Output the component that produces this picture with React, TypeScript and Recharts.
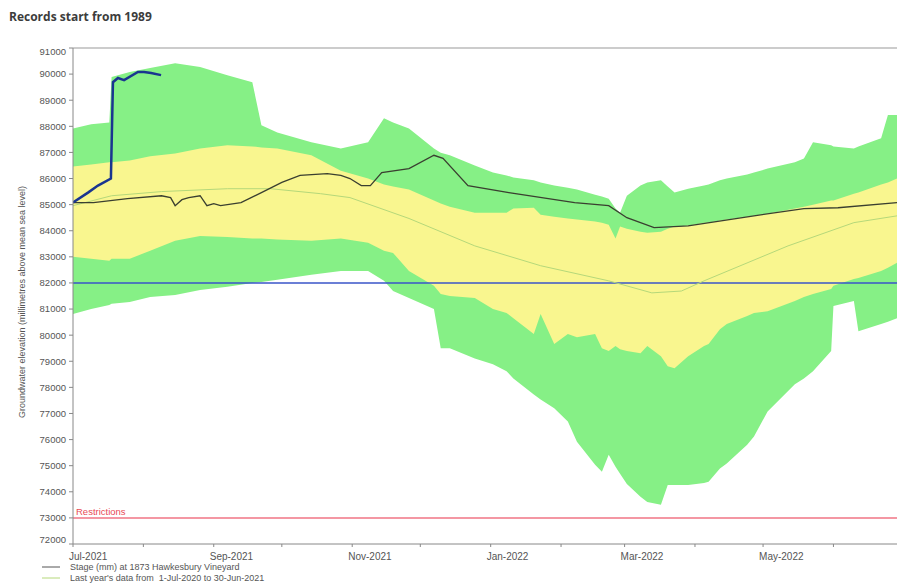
import React from 'react';
import { ComposedChart, Area, Line, XAxis, YAxis, ReferenceLine } from 'recharts';

// Days since 1-Jul-2021
const bandDays = [0, 8, 16, 17, 25, 34, 45, 56, 68, 79, 83, 90, 105, 118, 130, 137, 141, 148, 159, 162, 166, 177, 185, 191, 194, 203, 206, 212, 218, 222, 230, 233, 236, 239, 241, 244, 250, 253, 259, 262, 265, 271, 278, 280, 285, 288, 297, 300, 306, 318, 322, 326, 334, 335, 344, 346, 356, 359, 363];
const greenHigh = [87920, 88080, 88150, 89890, 90080, 90230, 90420, 90270, 89960, 89690, 88040, 87760, 87390, 87150, 87390, 88310, 88150, 87920, 87150, 86990, 86890, 86500, 86230, 86120, 86040, 85930, 85850, 85730, 85650, 85580, 85380, 85310, 85230, 84850, 84690, 85340, 85730, 85850, 85930, 85690, 85460, 85610, 85730, 85770, 85930, 86000, 86150, 86230, 86380, 86620, 86770, 87390, 87270, 87230, 87150, 87230, 87540, 88430, 88430];
const greenLow = [80810, 81000, 81160, 81200, 81270, 81460, 81540, 81730, 81850, 82000, 82040, 82120, 82310, 82460, 82460, 82080, 81690, 81420, 81000, 79500, 79500, 79110, 78890, 78620, 78340, 77730, 77540, 77200, 76690, 75920, 75040, 74770, 75420, 74960, 74690, 74300, 73810, 73610, 73500, 74260, 74260, 74260, 74340, 74380, 74890, 75080, 75800, 76120, 77080, 78120, 78340, 78620, 79390, 81120, 81310, 80150, 80430, 80510, 80650];
const yellowHigh = [86460, 86540, 86620, 86620, 86690, 86850, 86960, 87150, 87270, 87230, 87190, 87150, 86890, 86300, 86000, 85770, 85690, 85580, 85160, 85040, 84920, 84690, 84690, 84690, 84850, 84880, 84610, 84540, 84470, 84430, 84350, 84310, 84230, 83700, 84160, 84080, 83960, 83920, 83960, 84080, 84160, 84190, 84310, 84310, 84390, 84430, 84540, 84570, 84650, 84850, 84920, 85000, 85160, 85160, 85420, 85460, 85770, 85850, 86000];
const yellowLow = [83000, 82930, 82850, 82930, 82930, 83230, 83620, 83800, 83760, 83700, 83700, 83660, 83620, 83700, 83540, 83230, 83150, 82460, 81890, 81580, 81500, 81420, 81000, 80850, 80650, 80040, 80810, 79660, 80040, 79920, 80040, 79500, 79390, 79580, 79460, 79390, 79310, 79580, 79190, 78810, 78730, 79190, 79580, 79660, 80230, 80430, 80730, 80850, 80920, 81310, 81460, 81580, 81770, 81890, 82150, 82190, 82460, 82580, 82770];

const stageDays = [0, 9, 24, 39, 43, 45, 48, 51, 56, 59, 62, 65, 74, 83, 92, 100, 112, 118, 122, 127, 131, 136, 148, 159, 163, 174, 192, 221, 236, 244, 256, 271, 300, 322, 337, 363];
const stageValues = [85080, 85080, 85230, 85340, 85270, 84960, 85190, 85270, 85340, 84960, 85040, 84960, 85080, 85460, 85850, 86120, 86190, 86120, 86000, 85730, 85730, 86230, 86380, 86890, 86770, 85730, 85460, 85080, 84960, 84500, 84120, 84190, 84570, 84850, 84880, 85080];

const lastYearDays = [0, 17, 39, 68, 87, 109, 122, 148, 177, 206, 236, 255, 268, 278, 315, 344, 363];
const lastYearValues = [84960, 85340, 85500, 85610, 85610, 85420, 85270, 84470, 83420, 82660, 82080, 81620, 81690, 82080, 83420, 84310, 84570];

const blueDays = [0, 6.6, 11, 16.7, 17.6, 19.8, 22.5, 28.6, 31.3, 34.4, 38.8];
const blueValues = [85080, 85460, 85730, 86000, 89690, 89850, 89770, 90080, 90080, 90040, 89960];

const yTicks = [72000, 73000, 74000, 75000, 76000, 77000, 78000, 79000, 80000, 81000, 82000, 83000, 84000, 85000, 86000, 87000, 88000, 89000, 90000, 91000];
const monthTicks = [0, 31, 62, 92, 123, 153, 184, 215, 243, 274, 304, 335];
const monthLabels = ['Jul-2021', '', 'Sep-2021', '', 'Nov-2021', '', 'Jan-2022', '', 'Mar-2022', '', 'May-2022', ''];

const restrictionLevel = 73000;
const triggerLevel = 82000;

const bandData = bandDays.map((d, i) => ({
  day: d,
  green: [greenLow[i], greenHigh[i]],
  yellow: [yellowLow[i], yellowHigh[i]],
}));
const stageData = stageDays.map((d, i) => ({ day: d, v: stageValues[i] }));
const lastYearData = lastYearDays.map((d, i) => ({ day: d, v: lastYearValues[i] }));
const blueData = blueDays.map((d, i) => ({ day: d, v: blueValues[i] }));

const FONT = '"Liberation Sans", Arial, sans-serif';

const XTick = (props: any) => {
  const { x, y, payload } = props;
  const idx = monthTicks.indexOf(payload.value);
  const lbl = idx >= 0 ? monthLabels[idx] : '';
  return (
    <text x={x - 4} y={y + 11} fontSize={10} fill="#555" fontFamily={FONT} textAnchor="start">
      {lbl}
    </text>
  );
};

const YTick = (props: any) => {
  const { x, y, payload } = props;
  const v = payload.value;
  const dy = v === yTicks[yTicks.length - 1] ? 4 : v === yTicks[0] ? -4 : 0;
  return (
    <text x={x} y={y + dy} dy="0.355em" fontSize={9.5} fill="#555" fontFamily={FONT} textAnchor="end">
      {v}
    </text>
  );
};

export default function App() {
  return (
    <div style={{ position: 'absolute', left: 0, top: 0, width: 897, height: 587, background: '#fff', overflow: 'hidden' }}>
      <div style={{ position: 'absolute', left: 9, top: 8, fontFamily: '"Open Sans", sans-serif', fontWeight: 700, fontSize: 12, color: '#3c3c3c' }}>
        Records start from 1989
      </div>
      <ComposedChart
        width={897}
        height={587}
        margin={{ top: 48, right: 0, bottom: 13, left: 18 }}
        style={{ position: 'absolute', left: 0, top: 0 }}
      >
        <XAxis
          type="number"
          dataKey="day"
          domain={[0, 363]}
          ticks={monthTicks}
          tick={<XTick />}
          tickSize={3}
          tickMargin={2}
          height={30}
          stroke="#888"
          allowDataOverflow
        />
        <XAxis
          xAxisId="top"
          orientation="top"
          type="number"
          dataKey="day"
          domain={[0, 363]}
          ticks={monthTicks}
          tick={false}
          tickSize={3}
          stroke="#999"
          height={0}
        />
        <YAxis
          type="number"
          domain={[72000, 91000]}
          ticks={yTicks}
          interval={0}
          width={55}
          tickSize={4}
          tickMargin={3}
          stroke="#888"
          tick={<YTick />}
          allowDataOverflow
        />
        <Area data={bandData} dataKey="green" type="linear" fill="#86f086" fillOpacity={1} stroke="none" isAnimationActive={false} />
        <Area data={bandData} dataKey="yellow" type="linear" fill="#f9f68f" fillOpacity={1} stroke="none" isAnimationActive={false} />
        <ReferenceLine y={91000} stroke="#999" strokeWidth={1} />
        <ReferenceLine y={triggerLevel} stroke="#3a55c8" strokeWidth={1.5} />
        <ReferenceLine
          y={restrictionLevel}
          stroke="#f07585"
          strokeWidth={1.5}
          label={{ value: 'Restrictions', position: 'insideBottomLeft', fill: '#e84a55', fontSize: 9.5, fontFamily: FONT, offset: 3 }}
        />
        <Line data={lastYearData} dataKey="v" type="linear" stroke="#b5d87a" strokeWidth={1} dot={false} isAnimationActive={false} />
        <Line data={stageData} dataKey="v" type="linear" stroke="#3a3f30" strokeWidth={1.3} dot={false} isAnimationActive={false} />
        <Line data={blueData} dataKey="v" type="linear" stroke="#1a3590" strokeWidth={2.5} dot={false} isAnimationActive={false} />
      </ComposedChart>
      <div
        style={{
          position: 'absolute',
          left: 22,
          top: 302,
          transform: 'translate(-50%, -50%) rotate(-90deg)',
          whiteSpace: 'nowrap',
          fontFamily: FONT,
          fontSize: 9,
          color: '#555',
        }}
      >
        Groundwater elevation (millimetres above mean sea level)
      </div>
      <svg width={300} height={30} style={{ position: 'absolute', left: 0, top: 559 }}>
        <line x1={42} x2={60} y1={8} y2={8} stroke="#555" strokeWidth={1} />
        <text x={70} y={11} fontSize={9} fill="#555" fontFamily={FONT}>Stage (mm) at 1873 Hawkesbury Vineyard</text>
        <line x1={42} x2={60} y1={19} y2={19} stroke="#b5d87a" strokeWidth={1} />
        <text x={70} y={22} fontSize={9} fill="#555" fontFamily={FONT} xmlSpace="preserve">Last year's data from  1-Jul-2020 to 30-Jun-2021</text>
      </svg>
    </div>
  );
}
